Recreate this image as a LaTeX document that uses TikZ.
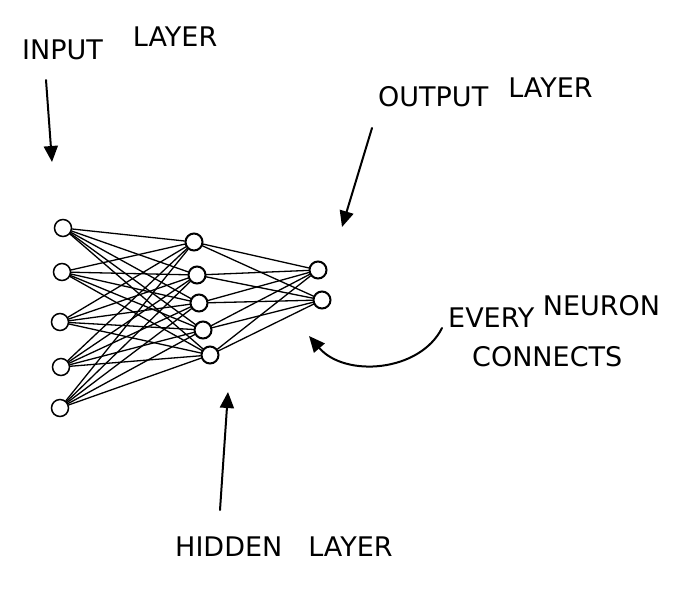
\documentclass[tikz,border=0pt]{standalone}
\usepackage{fontspec}
\setmainfont{DejaVu Sans}
\usetikzlibrary{arrows.meta}

\begin{document}
\begin{tikzpicture}[x=1pt,y=-1pt,line cap=round]
	\tikzstyle{neuron}=[circle,minimum size=17pt,inner sep=0pt,draw,line width=2pt,fill=white]
	\tikzstyle{inneuron}=[neuron,line width=1.5pt]
	\tikzstyle{link}=[line width=1.3pt]
	\tikzstyle{pointer}=[line width=2pt,-{Triangle[length=16pt,width=14pt]}]
	\tikzstyle{caption}=[font=\fontsize{27}{32}\selectfont,inner sep=0pt,anchor=base west]
	\useasboundingbox (0,0) rectangle (687,598);

	% layers
	\node [inneuron] (in1) at (63,228) {};
	\node [inneuron] (in2) at (62,272) {};
	\node [inneuron] (in3) at (60,322) {};
	\node [inneuron] (in4) at (61,367) {};
	\node [inneuron] (in5) at (60,408) {};
	\node [neuron] (hid1) at (194,242) {};
	\node [neuron] (hid2) at (197,275) {};
	\node [neuron] (hid3) at (199,303) {};
	\node [neuron] (hid4) at (203,330) {};
	\node [neuron] (hid5) at (210,355) {};
	\node [neuron] (out1) at (318,270) {};
	\node [neuron] (out2) at (322,300) {};

	% every neuron connects
	\foreach \i in {1,...,5}
		\foreach \j in {1,...,5}
			\draw [link] (in\i) -- (hid\j);
	\foreach \j in {1,...,5}
		\foreach \k in {1,2}
			\draw [link] (hid\j) -- (out\k);

	% labels
	\node [caption] (inlabel) at (22,59) {INPUT\hspace{30pt}\raisebox{13pt}{LAYER}};
	\node [caption] (outlabel) at (378,106) {OUTPUT\hspace{20pt}\raisebox{9pt}{LAYER}};
	\node [caption] (hidlabel) at (175,556) {HIDDEN\hspace{26pt}LAYER};
	\node [caption] (alllabel) at (448,327) {EVERY \raisebox{12pt}{NEURON}};
	\node [caption] (alllabel2) at (472,366) {CONNECTS};

	% arrows
	\coordinate (instart) at (46,80);
	\coordinate (intip) at (52,162);
	\coordinate (outstart) at (372,128);
	\coordinate (outtip) at (342,227);
	\coordinate (hidstart) at (220,510);
	\coordinate (hidtip) at (228,392);
	\coordinate (allstart) at (442,328);
	\coordinate (alltip) at (309,336);
	\draw [pointer] (instart) -- (intip);
	\draw [pointer] (outstart) -- (outtip);
	\draw [pointer] (hidstart) -- (hidtip);
	\draw [pointer] (allstart) .. controls (420,372) and (345,378) .. (alltip);
\end{tikzpicture}
\end{document}
